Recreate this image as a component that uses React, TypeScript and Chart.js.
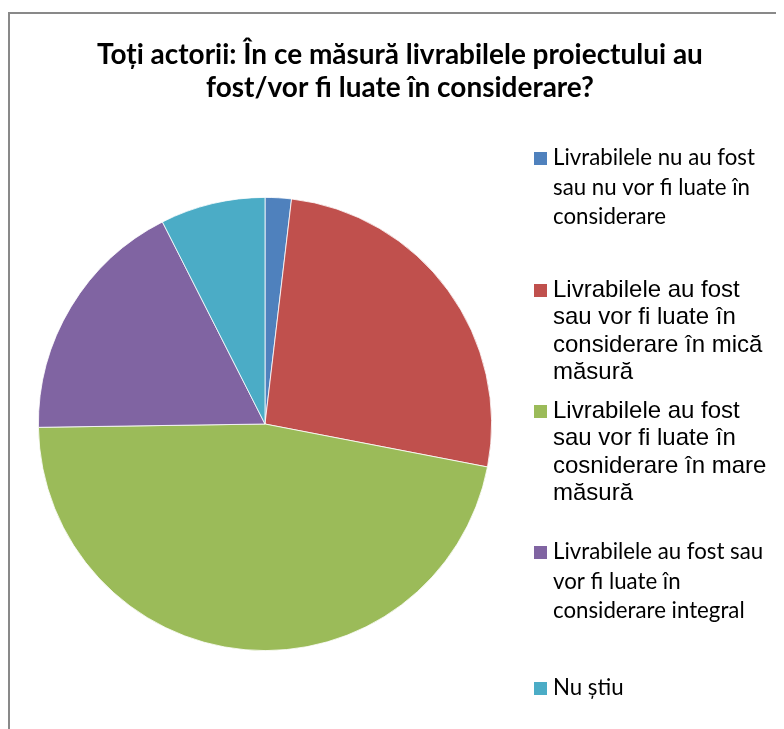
import React, { useEffect, useRef } from "react";
import { Chart, registerables } from "chart.js";

Chart.register(...registerables);

// ---- data ----
const titleLines = [
  "Toți actorii: În ce măsură livrabilele proiectului au",
  "fost/vor fi luate în considerare?",
];
const categories = [
  "Livrabilele nu au fost sau nu vor fi luate în considerare",
  "Livrabilele au fost sau vor fi luate în considerare în mică măsură",
  "Livrabilele au fost sau vor fi luate în cosniderare în mare măsură",
  "Livrabilele au fost sau vor fi luate în considerare integral",
  "Nu știu",
];
const legendLines = [
  ["Livrabilele nu au fost", "sau nu vor fi luate în", "considerare"],
  ["Livrabilele au fost", "sau vor fi luate în", "considerare în mică", "măsură"],
  ["Livrabilele au fost", "sau vor fi luate în", "cosniderare în mare", "măsură"],
  ["Livrabilele au fost sau", "vor fi luate în", "considerare integral"],
  ["Nu știu"],
];
const values = [2, 28, 50, 19, 8];

// ---- styles / layout ----
const sliceColors = ["#4F81BD", "#C0504D", "#9BBB59", "#8064A2", "#4BACC6"];
const legendFontKind = ["cal", "arial", "arial", "cal", "cal"];
const legendFirstY = [150, 282, 403, 544, 680];
const CANVAS_W = 776;
const CANVAS_H = 721;

function fitSize(ctx: CanvasRenderingContext2D, text: string, weight: string, family: string, target: number) {
  ctx.font = `${weight} 100px ${family}`;
  const w = ctx.measureText(text).width;
  return (100 * target) / w;
}

const decorPlugin = {
  id: "decor",
  beforeDraw(chart: any) {
    const ctx = chart.ctx as CanvasRenderingContext2D;
    ctx.save();
    ctx.fillStyle = "#ffffff";
    ctx.fillRect(0, 0, chart.width, chart.height);
    ctx.restore();
  },
  afterDraw(chart: any) {
    const ctx = chart.ctx as CanvasRenderingContext2D;
    ctx.save();
    // frame
    ctx.strokeStyle = "#898989";
    ctx.lineWidth = 2;
    ctx.beginPath();
    ctx.moveTo(1, chart.height + 5);
    ctx.lineTo(1, 5);
    ctx.lineTo(chart.width + 5, 5);
    ctx.stroke();

    // title
    const titleFamily = "Lato, 'Open Sans', sans-serif";
    const tSize = fitSize(ctx, titleLines[0], "bold", titleFamily, 606);
    ctx.font = `bold ${tSize}px ${titleFamily}`;
    ctx.fillStyle = "#000000";
    ctx.textAlign = "center";
    ctx.textBaseline = "middle";
    ctx.fillText(titleLines[0], 392, 47);
    ctx.fillText(titleLines[1], 392, 80);

    // legend
    const calFamily = "Lato, 'Open Sans', sans-serif";
    const calSize = fitSize(ctx, "Livrabilele nu au fost", "normal", calFamily, 202);
    const arialFamily = "'Liberation Sans', Arial, sans-serif";
    const arialSize = 24;
    const colors = chart.data.datasets[0].backgroundColor as string[];
    ctx.textAlign = "left";
    legendLines.forEach((lines, i) => {
      const kind = legendFontKind[i];
      const font = kind === "cal" ? `normal ${calSize}px ${calFamily}` : `normal ${arialSize}px ${arialFamily}`;
      const lh = kind === "cal" ? 29.5 : 27.6;
      const y0 = legendFirstY[i];
      ctx.fillStyle = colors[i];
      ctx.fillRect(526, y0 - 6, 13, 13);
      ctx.fillStyle = "#000000";
      ctx.font = font;
      lines.forEach((ln, j) => {
        ctx.fillText(ln, 545, y0 + j * lh);
      });
    });
    ctx.restore();
  },
};

export default function App() {
  const ref = useRef<HTMLCanvasElement | null>(null);
  useEffect(() => {
    if (!ref.current) return;
    const chart = new Chart(ref.current, {
      type: "pie",
      data: {
        labels: categories,
        datasets: [
          {
            data: values,
            backgroundColor: sliceColors,
            borderColor: "#ffffff",
            borderWidth: 0.8,
          },
        ],
      },
      options: {
        responsive: false,
        animation: false,
        devicePixelRatio: 1,
        layout: {
          padding: { left: 30, top: 189, right: CANVAS_W - 484, bottom: CANVAS_H - 643 },
        },
        plugins: {
          legend: { display: false },
          title: { display: false },
          tooltip: { enabled: false },
        },
      },
      plugins: [decorPlugin],
    });
    return () => chart.destroy();
  }, []);
  return (
    <canvas
      ref={ref}
      width={CANVAS_W}
      height={CANVAS_H}
      style={{ display: "block", width: CANVAS_W, height: CANVAS_H }}
    />
  );
}
